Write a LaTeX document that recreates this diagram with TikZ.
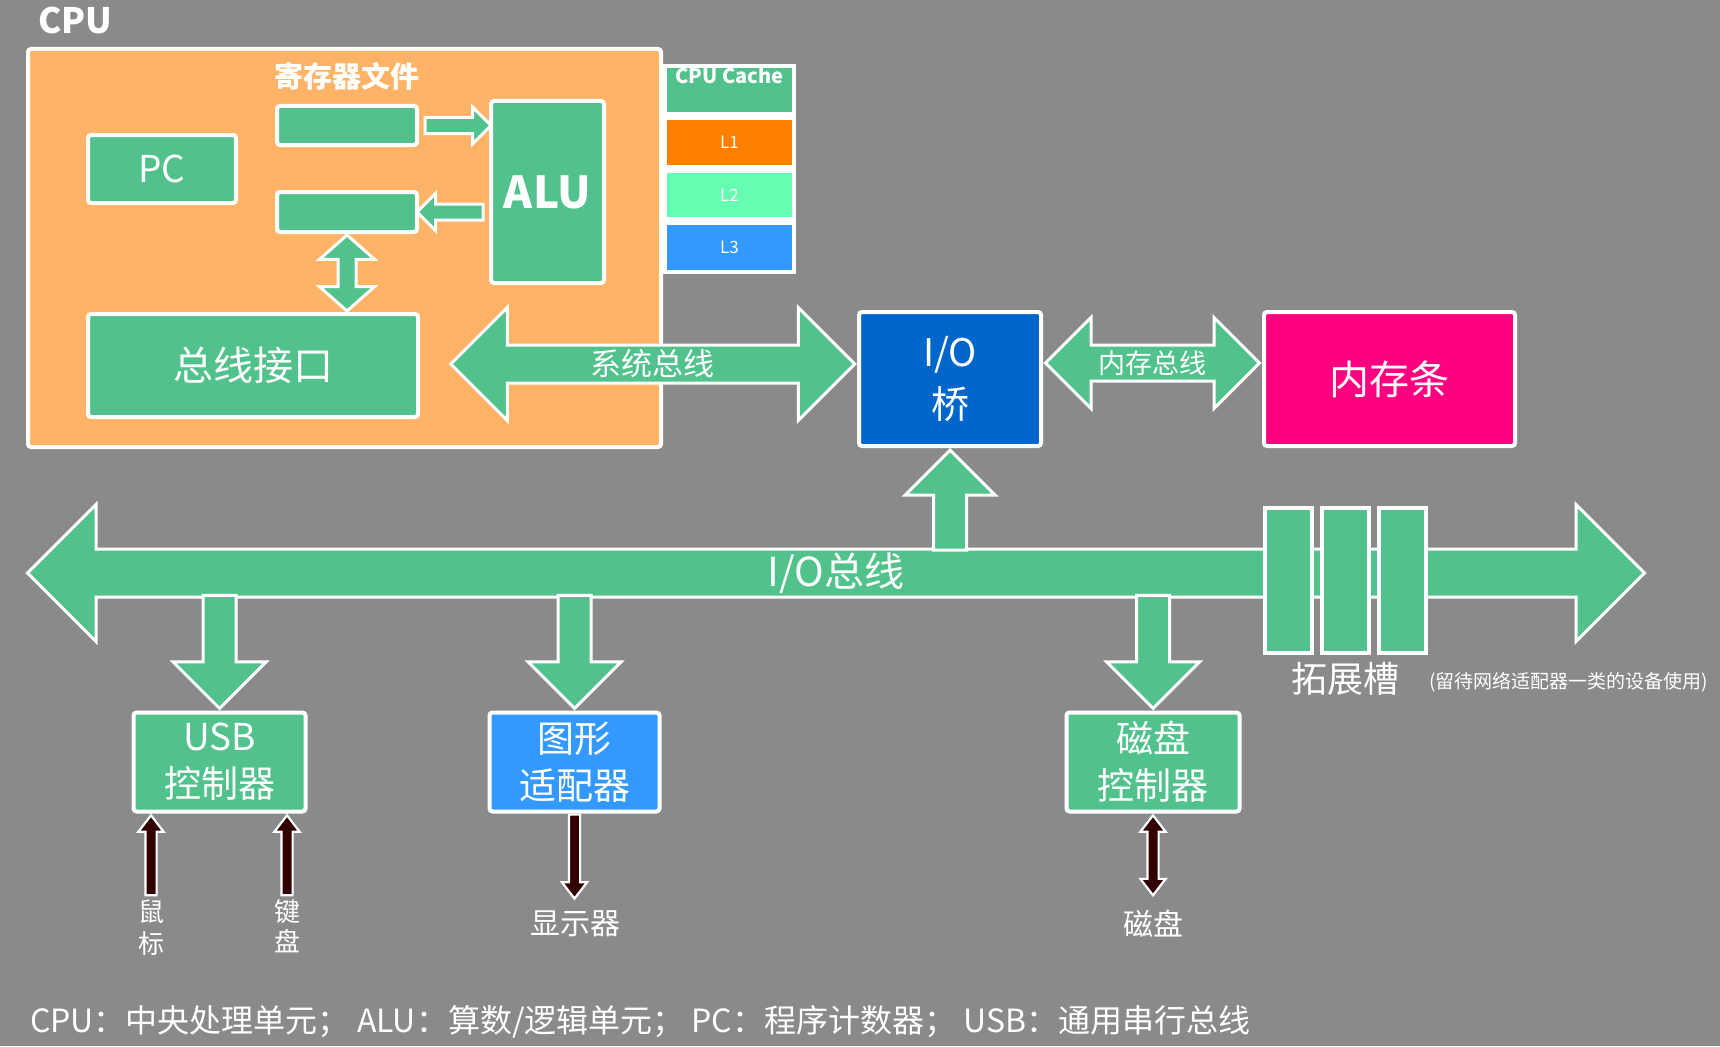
\documentclass[tikz,border=0pt]{standalone}
\usepackage{fontspec}
\setmainfont{Noto Sans CJK SC}
\usetikzlibrary{shapes.arrows,calc,positioning}
\definecolor{bggray}{HTML}{8A8A8A}
\definecolor{cpuorange}{HTML}{FFB366}
\definecolor{busgreen}{HTML}{52C28C}
\definecolor{lone}{HTML}{FF8000}
\definecolor{ltwo}{HTML}{66FFB2}
\definecolor{lthree}{HTML}{3399FF}
\definecolor{bridgeblue}{HTML}{0066CC}
\definecolor{rampink}{HTML}{FF0080}
\definecolor{wiredark}{HTML}{330000}
\newcommand{\fsz}[2]{\fontsize{#1}{#2}\selectfont}

\begin{document}
\begin{tikzpicture}[x=1pt, y=-1pt,
  box/.style={draw=white, line width=4pt, rounded corners=3pt, fill=busgreen,
    text=white, align=center, inner sep=0pt},
  fatarrow/.style={single arrow, draw=white, line width=3pt, fill=busgreen,
    inner sep=0pt, single arrow tip angle=90},
  fatdouble/.style={double arrow, draw=white, line width=3pt, fill=busgreen,
    inner sep=0pt, double arrow tip angle=90},
  wire/.style={single arrow, draw=white, line width=2.2pt, fill=wiredark,
    inner sep=0pt, inner ysep=4.5pt, single arrow head extend=7pt,
    single arrow tip angle=75},
  wiredouble/.style={double arrow, draw=white, line width=2.2pt, fill=wiredark,
    inner sep=0pt, inner ysep=4.5pt, double arrow head extend=7pt,
    double arrow tip angle=75},
  lbl/.style={text=white, inner sep=0pt, align=center}]

  \fill[bggray] (0,0) rectangle (1720,1046);
  \useasboundingbox (0,0) rectangle (1720,1046);

  % CPU
  \node[lbl, anchor=west, font=\bfseries\fsz{35}{40}] (cpulbl) at (38,20) {CPU};
  \node[box, fill=cpuorange, minimum width=633pt, minimum height=398pt] (cpu) at (344.5,248) {};
  \node[lbl, font=\bfseries\fsz{29}{32}] (rftitle) at (347,76) {寄存器文件};
  \node[box, minimum width=140pt, minimum height=39pt] (rega) at (347,125.5) {};
  \node[box, minimum width=140pt, minimum height=40pt] (regb) at (347,212) {};
  \node[box, minimum width=113pt, minimum height=182pt, font=\bfseries\fsz{44}{48}] (alu) at (547.5,192) {ALU};
  \node[box, minimum width=148pt, minimum height=68pt, font=\fsz{37}{40}] (pc) at (162,169) {PC};
  \node[box, minimum width=330pt, minimum height=103pt, font=\fsz{40}{44}] (bif) at (253,365.5) {总线接口};

  \node[fatarrow, inner ysep=6.5pt, single arrow head extend=10.5pt, minimum height=66pt]
    (rtoa) at ($(rega.east)!.5!(alu.west |- rega.east)$) {};
  \node[fatarrow, rotate=180, inner ysep=6.5pt, single arrow head extend=10.5pt, minimum height=66pt]
    (ator) at ($(regb.east)!.5!(alu.west |- regb.east)$) {};
  \node[fatdouble, rotate=90, inner ysep=7.5pt, double arrow head extend=18.5pt,
    double arrow tip angle=97, minimum height=76pt]
    (regbus) at ($(regb.south)!.5!(regb.south |- bif.north)$) {};

  % cache
  \node[box, rounded corners=0pt, minimum width=129pt, minimum height=48pt] (cache) at (729.5,90) {};
  \node[lbl, anchor=north, font=\bfseries\fsz{20}{22}] (cachelbl) at ($(cache.north)+(0,3)$) {CPU Cache};
  \foreach \n/\c/\y in {1/lone/142.5, 2/ltwo/195, 3/lthree/247.5}
    \node[box, rounded corners=0pt, fill=\c, minimum width=129pt, minimum height=48.5pt,
      font=\fsz{17}{20}] (l\n) at (729.5,\y) {L\n};

  % bridge and memory
  \node[box, fill=bridgeblue, minimum width=182pt, minimum height=134pt, font=\fsz{38}{52}] (iob) at (950,379) {I/O\\桥};
  \node[box, fill=rampink, minimum width=251pt, minimum height=134pt, font=\fsz{40}{44}] (ram) at (1389.5,379) {内存条};

  \node[fatdouble, anchor=east, inner ysep=17.5pt, double arrow head extend=37.5pt, minimum height=404pt]
    (sysbus) at ($(iob.west)+(0,-15)$) {};
  \node[lbl, font=\fsz{31}{34}] at (sysbus) {系统总线};
  \node[fatdouble, inner ysep=16.5pt, double arrow head extend=27.5pt, minimum height=214pt]
    (membus) at ($(iob.east)!.5!(ram.west)+(0,-16)$) {};
  \node[lbl, font=\fsz{27}{30}] at (membus) {内存总线};

  % I/O bus
  \node[fatdouble, inner ysep=22.5pt, double arrow head extend=44.5pt, minimum height=1617pt]
    (iobus) at (836,573) {};
  \node[lbl, font=\fsz{40}{44}] at (iobus) {I/O总线};
  \node[fatarrow, rotate=90, anchor=east, inner ysep=15pt, single arrow head extend=28.5pt,
    minimum height=100pt] (ioup) at (iob.south) {};

  \foreach \i/\x in {1/1288.5, 2/1345.5, 3/1402.5}
    \node[box, rounded corners=0pt, minimum width=47pt, minimum height=145pt] (slot\i) at (\x,580.5) {};
  \node[lbl, below=7pt of slot2, font=\fsz{36}{40}] (slotlbl) {拓展槽};
  \node[lbl, anchor=west, font=\fsz{19}{22}] (note) at (1429,682) {(留待网络适配器一类的设备使用)};

  % controllers
  \node[box, minimum width=172pt, minimum height=99pt, font=\fsz{37}{47}] (usb) at (219.5,762) {USB\\控制器};
  \node[box, fill=lthree, minimum width=170pt, minimum height=99pt, font=\fsz{37}{47}] (gpu) at (574.5,762) {图形\\适配器};
  \node[box, minimum width=173pt, minimum height=99pt, font=\fsz{37}{47}] (diskctl) at (1153,762) {磁盘\\控制器};

  \foreach \dev in {usb, gpu, diskctl}
    \node[fatarrow, rotate=-90, anchor=east, inner ysep=15pt, single arrow head extend=30pt,
      minimum height=113pt] (\dev arrow) at (\dev.north) {};

  % devices
  \node[lbl, font=\fsz{26}{32}] (mouse) at (151,928) {鼠\\标};
  \node[lbl, font=\fsz{26}{30}] (kbd) at (287,926) {键\\盘};
  \node[lbl, font=\fsz{30}{34}] (monitor) at (575,924) {显示器};
  \node[lbl, font=\fsz{30}{34}] (disk) at (1153,924) {磁盘};

  \node[wire, rotate=90, anchor=east, minimum height=80pt] (mousewire) at (mouse |- usb.south) {};
  \node[wire, rotate=90, anchor=east, minimum height=80pt] (kbdwire) at (kbd |- usb.south) {};
  \node[wire, rotate=-90, anchor=west, minimum height=84pt] (monwire) at (gpu.south) {};
  \node[wiredouble, rotate=90, anchor=east, minimum height=80pt] (diskwire) at (diskctl.south) {};

  \node[lbl, anchor=west, font=\fsz{32}{36}] (legend) at (30,1022)
    {CPU：中央处理单元； ALU：算数/逻辑单元； PC：程序计数器； USB：通用串行总线};
\end{tikzpicture}
\end{document}
